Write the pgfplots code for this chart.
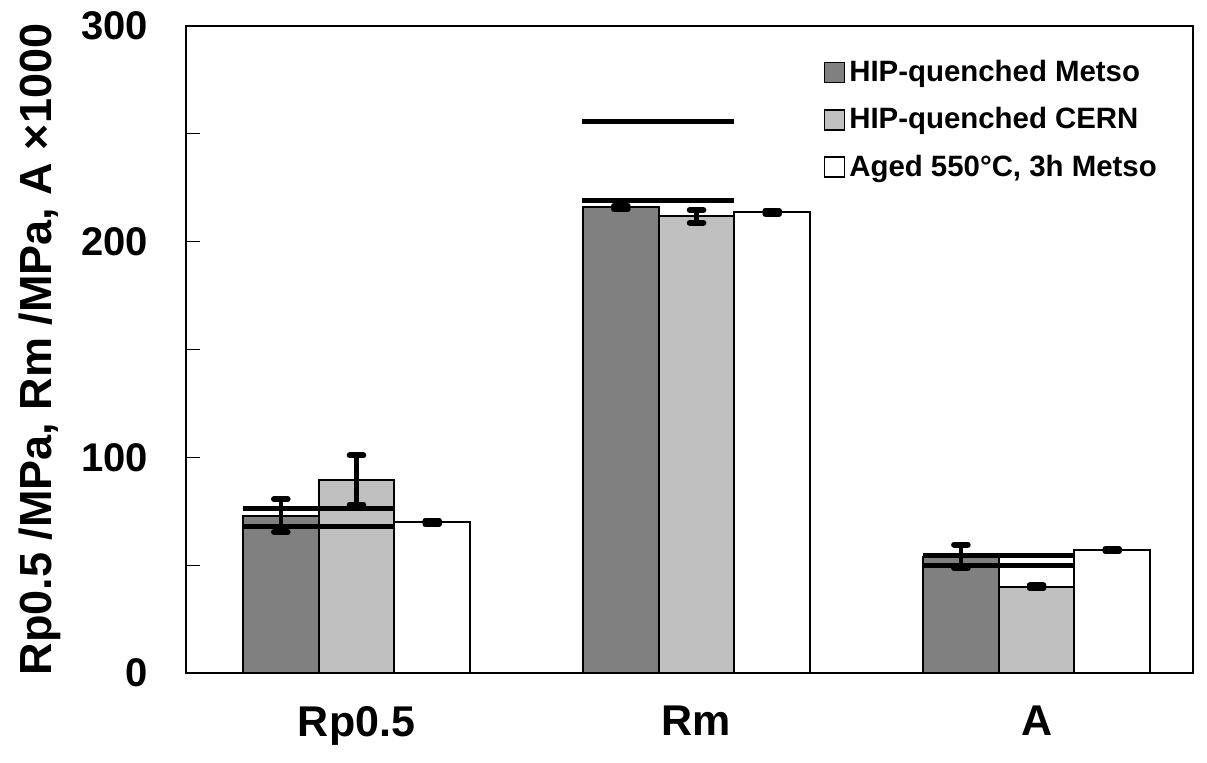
\documentclass[border=0pt]{standalone}
\usepackage{fontspec}
\setmainfont{Liberation Sans}
\usepackage{pgfplots}
\pgfplotsset{compat=1.18}

\definecolor{metso}{HTML}{808080}
\definecolor{cern}{HTML}{C0C0C0}

\begin{document}
\begin{tikzpicture}
\useasboundingbox (-93pt,-44.5pt) rectangle (510.5pt,336.5pt);
\begin{axis}[
    at={(0,0)}, anchor=south west,
    scale only axis,
    width=503.5pt, height=323.5pt,
    xmin=-0.5015, xmax=2.46,
    ymin=0, ymax=300,
    axis line style={line width=1pt},
    xtick={0,1,2},
    xticklabels={Rp0.5,Rm,A},
    x tick style={draw=none},
    ytick={0,100,200,300},
    minor ytick={50,150,250},
    ytick pos=left,
    tick align=inside,
    major tick length=7pt,
    minor tick length=7pt,
    y tick style={line width=0.6pt, black},
    /pgf/number format/assume math mode=true,
    yticklabel style={font=\fontsize{20}{24}\selectfont\bfseries, xshift=-15.5pt},
    xticklabel style={font=\fontsize{21.5}{26}\selectfont\bfseries, yshift=-13pt},
    ylabel={Rp0.5 /MPa, Rm /MPa, A ×1000},
    ylabel style={at={(axis description cs:-0.145,0.5)}, anchor=center,
        font=\fontsize{22.5}{26}\selectfont\bfseries},
    legend style={
        draw=none, fill=none,
        at={(rel axis cs:0.633,0.855)}, anchor=west,
        inner sep=0pt,
        row sep=7.5pt,
        font=\fontsize{14.7}{17}\selectfont\bfseries,
        nodes={inner sep=2pt},
    },
    legend cell align=left,
    legend image code/.code={
        \draw[#1, line width=0.75pt] (0pt,-5pt) rectangle (10pt,5pt);
    },
    error bars/error bar style={line width=2.3pt, black},
    error bars/error mark options={rotate=90, mark size=3.4pt, line width=3pt, line cap=round, black},
]

% HIP-quenched Metso (bars placed at their own x, group centre - 0.2226)
\addplot[ybar, bar width=0.2226, bar shift=0, fill=metso, draw=black, line width=1pt,
    error bars/.cd, y dir=both, y explicit]
coordinates {(-0.2226,73.0) +- (0,7.6) (0.7774,215.9) +- (0,0.8) (1.7774,54.0) +- (0,5.5)};

% HIP-quenched CERN
\addplot[ybar, bar width=0.2226, bar shift=0, fill=cern, draw=black, line width=1pt,
    error bars/.cd, y dir=both, y explicit]
coordinates {(0,89.5) +- (0,11.4) (1,211.7) +- (0,3.0) (2,40.0) +- (0,0.6)};

% Aged 550C 3h Metso
\addplot[ybar, bar width=0.2226, bar shift=0, fill=white, draw=black, line width=1pt,
    error bars/.cd, y dir=both, y explicit]
coordinates {(0.2226,69.9) +- (0,0.8) (1.2226,213.7) +- (0,0.7) (2.2226,57.0) +- (0,0.5)};

\legend{HIP-quenched Metso, HIP-quenched CERN, {Aged 550°C, 3h Metso}}

% reference lines
\addplot[forget plot, black, line width=2.5pt] coordinates {(-0.334,76.3) (0.110,76.3)};
\addplot[forget plot, black, line width=2.5pt] coordinates {(-0.334,68.0) (0.110,68.0)};
\addplot[forget plot, black, line width=2.5pt] coordinates {(0.663,255.6) (1.111,255.6)};
\addplot[forget plot, black, line width=2.5pt] coordinates {(0.663,219.3) (1.111,219.3)};
\addplot[forget plot, black, line width=2.5pt] coordinates {(1.666,54.4) (2.107,54.4)};
\addplot[forget plot, black, line width=2.5pt] coordinates {(1.666,49.7) (2.107,49.7)};

\end{axis}
\end{tikzpicture}
\end{document}
